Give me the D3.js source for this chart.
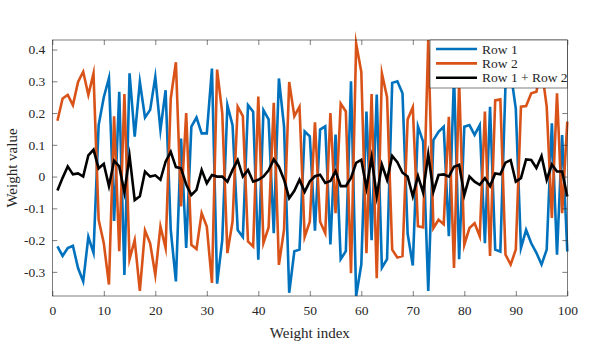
<!DOCTYPE html>
<html>
  <head>
    <script src="https://d3js.org/d3.v7.min.js"></script>
    <style>
      body { margin: 0; background: white; }
      svg { display: block; }
      text { font-family: "Liberation Serif", "DejaVu Serif", serif; fill: #262626; }
    </style>
  </head>
  <body>
    <svg id="chart" width="598" height="352"></svg>
  </body>
  <script>
    // weights, index 1..100
    const row1 = [
      -0.22, -0.25, -0.225, -0.218, -0.288, -0.33, -0.19, -0.24, 0.162, 0.25,
      0.31, -0.14, 0.267, -0.31, 0.325, 0.126, 0.298, 0.186, 0.21, 0.314,
      0.147, 0.272, -0.168, -0.33, 0.12, -0.225, 0.157, 0.186, 0.136, 0.136,
      0.34, -0.337, -0.2, 0.225, 0.162, -0.168, -0.19, 0.225, 0.204, -0.262,
      0.209, 0.18, -0.178, 0.309, 0.157, -0.366, -0.235, -0.23, 0.142, 0.127,
      -0.17, 0.148, 0.158, -0.214, 0.132, -0.26, -0.235, 0.30, -0.376, -0.277,
      0.205, -0.2, 0.258, -0.287, -0.26, 0.295, 0.30, 0.262, -0.18, -0.28,
      0.158, 0.11, -0.36, 0.115, 0.141, 0.157, -0.188, 0.319, -0.26, 0.157,
      0.162, 0.131, 0.162, -0.21, 0.22, -0.23, -0.236, 0.29, 0.329, 0.214,
      -0.225, -0.168, -0.21, -0.24, -0.277, -0.23, 0.168, -0.246, 0.131, -0.236
    ];
    const row2 = [
      0.176, 0.246, 0.257, 0.225, 0.298, 0.33, 0.257, 0.325, -0.136, -0.21,
      -0.34, 0.19, -0.235, 0.26, -0.26, -0.2, -0.36, -0.17, -0.21, -0.31,
      -0.157, -0.225, 0.246, 0.36, -0.094, 0.2, -0.215, -0.228, -0.115, -0.157,
      -0.335, 0.337, 0.2, -0.241, -0.141, 0.22, 0.19, -0.204, -0.22, 0.252,
      -0.209, -0.16, 0.232, -0.278, -0.167, 0.298, 0.19, 0.22, -0.19, -0.142,
      0.171, -0.142, -0.178, 0.2, -0.115, 0.23, 0.205, -0.304, 0.419, 0.33,
      -0.241, 0.26, -0.32, 0.325, 0.25, -0.23, -0.255, -0.25, 0.18, 0.218,
      -0.156, -0.16, 0.43, -0.162, -0.136, -0.15, 0.188, -0.288, 0.297, -0.215,
      -0.162, -0.147, -0.188, 0.205, -0.25, 0.24, 0.243, -0.246, -0.277, -0.23,
      0.22, 0.222, 0.262, 0.267, 0.342, 0.22, -0.13, 0.262, -0.115, 0.173
    ];
    const rowSum = row1.map((v, i) => v + row2[i]);

    const xTicks = [0, 10, 20, 30, 40, 50, 60, 70, 80, 90, 100];
    const yTicks = [-0.3, -0.2, -0.1, 0, 0.1, 0.2, 0.3, 0.4];
    const seriesNames = ["Row 1", "Row 2", "Row 1 + Row 2"];
    const seriesColors = ["#0072BD", "#D95319", "#000000"];

    const svg = d3.select("#chart");
    const mLeft = 52.3, mRight = 567.3, mTop = 40, mBottom = 296;

    const x = d3.scaleLinear().domain([0, 100]).range([mLeft, mRight]);
    const y = d3.scaleLinear()
      .domain(d3.extent(row1.concat(row2)))
      .range([mBottom, mTop]);

    const line = d3.line()
      .x((d, i) => x(i + 1))
      .y(d => y(d));

    // lines first, legend sits on top of them
    [row1, row2, rowSum].forEach((s, k) => {
      svg.append("path")
        .datum(s)
        .attr("fill", "none")
        .attr("stroke", seriesColors[k])
        .attr("stroke-width", 2.6)
        .attr("stroke-linejoin", "miter")
        .attr("stroke-miterlimit", 10)
        .attr("d", line);
    });

    const fmtY = d => d === 0 ? "0" : d.toFixed(1);

    function styleAxis(g) {
      g.select(".domain").remove();
      g.selectAll(".tick line").attr("stroke", "#262626").attr("stroke-width", 0.6);
      g.selectAll(".tick text")
        .attr("fill", "#262626")
        .style("font-family", '"Liberation Serif", serif')
        .style("font-size", "13.5px");
    }

    svg.append("g")
      .attr("transform", `translate(0,${mBottom})`)
      .call(d3.axisBottom(x).tickValues(xTicks).tickSize(-5).tickPadding(9))
      .call(styleAxis);
    svg.append("g")
      .attr("transform", `translate(0,${mTop})`)
      .call(d3.axisTop(x).tickValues(xTicks).tickSize(-5).tickFormat(""))
      .call(styleAxis);
    svg.append("g")
      .attr("transform", `translate(${mLeft},0)`)
      .call(d3.axisLeft(y).tickValues(yTicks).tickSize(-5).tickPadding(7).tickFormat(fmtY))
      .call(styleAxis);
    svg.append("g")
      .attr("transform", `translate(${mRight},0)`)
      .call(d3.axisRight(y).tickValues(yTicks).tickSize(-5).tickFormat(""))
      .call(styleAxis);

    // axes box
    svg.append("rect")
      .attr("x", mLeft).attr("y", mTop)
      .attr("width", mRight - mLeft).attr("height", mBottom - mTop)
      .attr("fill", "none")
      .attr("stroke", "#262626")
      .attr("stroke-width", 0.6);

    svg.append("text")
      .attr("x", (mLeft + mRight) / 2)
      .attr("y", 338)
      .attr("text-anchor", "middle")
      .style("font-size", "15px")
      .text("Weight index");

    svg.append("text")
      .attr("transform", `translate(17,${(mTop + mBottom) / 2}) rotate(-90)`)
      .attr("text-anchor", "middle")
      .style("font-size", "15px")
      .text("Weight value");

    // legend
    const lg = svg.append("g");
    lg.append("rect")
      .attr("x", 430).attr("y", mTop)
      .attr("width", mRight - 430).attr("height", 48)
      .attr("fill", "white")
      .attr("stroke", "#262626")
      .attr("stroke-width", 0.6);
    seriesNames.forEach((name, k) => {
      const ly = 49 + k * 14.4;
      lg.append("line")
        .attr("x1", 436).attr("x2", 477)
        .attr("y1", ly).attr("y2", ly)
        .attr("stroke", seriesColors[k])
        .attr("stroke-width", 2.6);
      lg.append("text")
        .attr("x", 482)
        .attr("y", ly + 4.5)
        .style("font-size", "13.5px")
        .text(name);
    });
  </script>
</html>
